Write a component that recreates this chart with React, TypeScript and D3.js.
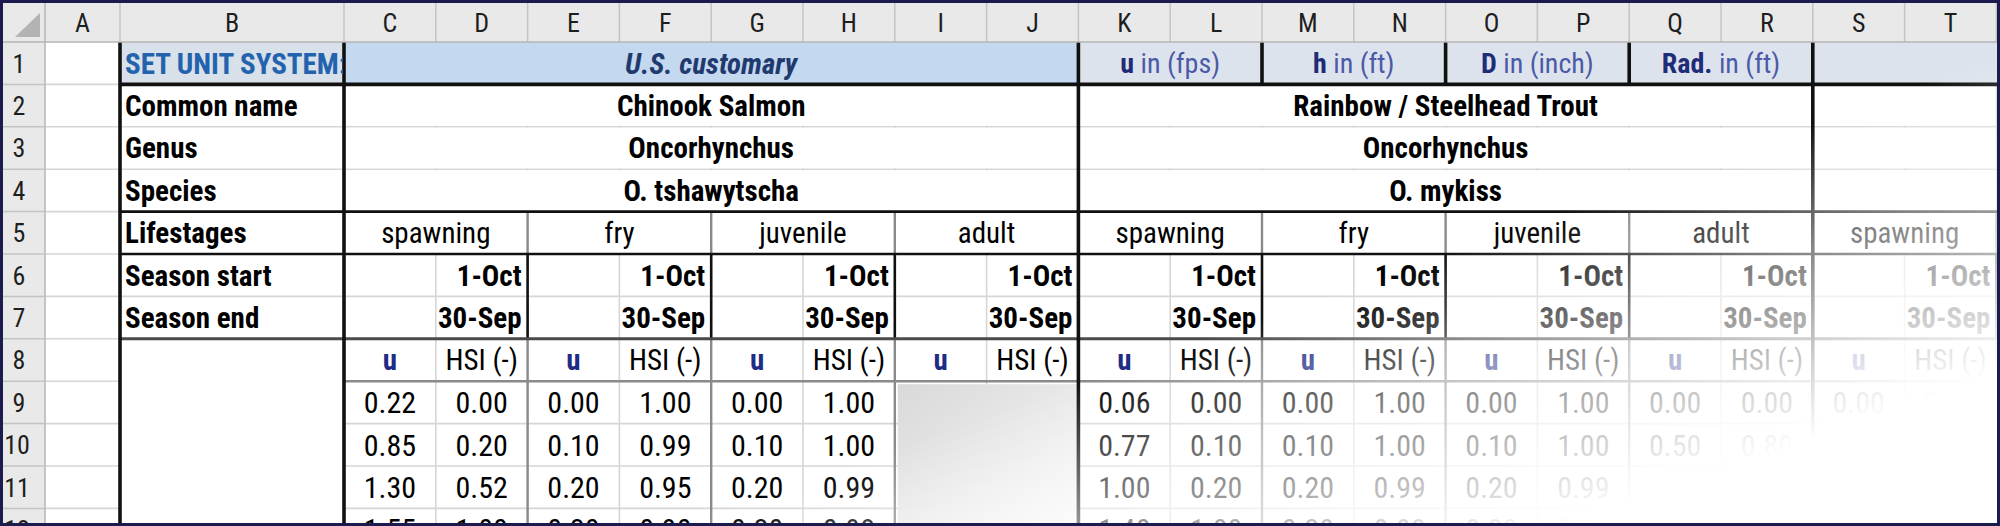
import React from 'react';
import * as d3 from 'd3';

// ---------- data ----------
const columnLetters = ['A','B','C','D','E','F','G','H','I','J','K','L','M','N','O','P','Q','R','S','T'];
const rowNumbers = [1,2,3,4,5,6,7,8,9,10,11,12];
const unitSystemLabel = 'SET UNIT SYSTEM:';
const unitSystem = 'U.S. customary';
const unitVars = ['u','h','D','Rad.'];
const unitNames = [' in (fps)',' in (ft)',' in (inch)',' in (ft)'];
const rowLabels = ['Common name','Genus','Species','Lifestages','Season start','Season end'];
const commonNames = ['Chinook Salmon','Rainbow / Steelhead Trout'];
const genera = ['Oncorhynchus','Oncorhynchus'];
const speciesNames = ['O. tshawytscha','O. mykiss'];
const lifestages = ['spawning','fry','juvenile','adult','spawning','fry','juvenile','adult','spawning'];
const seasonStart = ['1-Oct','1-Oct','1-Oct','1-Oct','1-Oct','1-Oct','1-Oct','1-Oct','1-Oct'];
const seasonEnd = ['30-Sep','30-Sep','30-Sep','30-Sep','30-Sep','30-Sep','30-Sep','30-Sep','30-Sep'];
const velocityHeader = 'u';
const hsiHeader = 'HSI (-)';
const uValues = [
  [0.22, 0.85, 1.30, 1.55],
  [0.00, 0.10, 0.20, 0.30],
  [0.00, 0.10, 0.20, 0.30],
  [],
  [0.06, 0.77, 1.00, 1.40],
  [0.00, 0.10, 0.20, 0.30],
  [0.00, 0.10, 0.20, 0.30],
  [0.00, 0.50],
  [0.00],
];
const hsiValues = [
  [0.00, 0.20, 0.52, 1.00],
  [1.00, 0.99, 0.95, 0.90],
  [1.00, 1.00, 0.99, 0.98],
  [],
  [0.00, 0.10, 0.20, 1.00],
  [1.00, 1.00, 0.99, 0.98],
  [1.00, 1.00, 0.99, 0.98],
  [0.00, 0.80],
  [0.00],
];
const shadedStages = [3];

// ---------- layout ----------
const W = 2000;
const H = 526;
const FONT = "'Liberation Sans Narrow','Arial Narrow','Roboto Condensed','DejaVu Sans Condensed',sans-serif";
const colScale = d3.scaleLinear().domain([2, 20]).range([344, 344 + 18 * 91.8]);
const edge = (i: number) => (i === 0 ? 45 : i === 1 ? 120 : colScale(i));
const rowScale = d3.scaleLinear().domain([1, 13]).range([42, 42 + 12 * 42.4]);
const rTop = (r: number) => rowScale(r);
const rMid = (r: number) => rowScale(r + 0.5);
const cMid = (i: number) => (edge(i) + edge(i + 1)) / 2;
const groupL = (g: number) => edge(2 + 2 * g);
const groupR = (g: number) => edge(4 + 2 * g);

const GRID = '#d6d6d6';
const BLACK = '#111';
const MIDGRAY = '#8a8a8a';

export default function App() {
  const grid: React.ReactNode[] = [];
  for (let i = 1; i <= 20; i++) {
    grid.push(<line key={'gv' + i} x1={edge(i)} x2={edge(i)} y1={42} y2={H} stroke={GRID} strokeWidth={1.6} />);
  }
  for (let r = 2; r <= 13; r++) {
    grid.push(<line key={'gh' + r} x1={45} x2={W} y1={rTop(r)} y2={rTop(r)} stroke={GRID} strokeWidth={1.6} />);
  }

  const fills: React.ReactNode[] = [];
  fills.push(<rect key="b1" x={edge(1)} y={rTop(1)} width={edge(2) - edge(1)} height={rTop(2) - rTop(1)} fill="#d8e0ea" />);
  fills.push(<rect key="c1" x={edge(2)} y={rTop(1)} width={edge(10) - edge(2)} height={rTop(2) - rTop(1)} fill="#c4d8ef" />);
  fills.push(<rect key="k1" x={edge(10)} y={rTop(1)} width={W - edge(10)} height={rTop(2) - rTop(1)} fill="#dde3ec" />);
  [2, 3, 4].forEach((r) => {
    [[2, 10], [10, 18], [18, 20]].forEach(([a, b]) => {
      fills.push(<rect key={`m${r}-${a}`} x={edge(a) + 1} y={rTop(r) + 1} width={edge(b) - edge(a) - 2} height={rTop(r + 1) - rTop(r) - 2} fill="#fff" />);
    });
  });
  lifestages.forEach((_, g) => {
    fills.push(<rect key={'ls' + g} x={groupL(g) + 1} y={rTop(5) + 1} width={groupR(g) - groupL(g) - 2} height={rTop(6) - rTop(5) - 2} fill="#fff" />);
  });
  fills.push(<rect key="b8" x={edge(1) + 1} y={rTop(8) + 1} width={edge(2) - edge(1) - 2} height={H - rTop(8)} fill="#fff" />);

  const defs = (
    <defs>
      <linearGradient id="shade" x1="0" y1="0" x2="1" y2="1">
        <stop offset="0" stopColor="#d9d9d9" />
        <stop offset="1" stopColor="#f7f7f7" />
      </linearGradient>
      <linearGradient id="fade" gradientUnits="userSpaceOnUse" x1={238} y1={679} x2={338} y2={962}>
        <stop offset="0" stopColor="#fff" stopOpacity={0} />
        <stop offset="0.233" stopColor="#fff" stopOpacity={0.3} />
        <stop offset="0.4" stopColor="#fff" stopOpacity={0.5} />
        <stop offset="0.767" stopColor="#fff" stopOpacity={0.82} />
        <stop offset="1" stopColor="#fff" stopOpacity={1} />
      </linearGradient>
      <clipPath id="clipB1">
        <rect x={edge(1)} y={rTop(1)} width={edge(2) - edge(1) - 1} height={rTop(2) - rTop(1)} />
      </clipPath>
    </defs>
  );

  shadedStages.forEach((g) => {
    fills.push(<rect key={'sh' + g} x={groupL(g) + 3} y={rTop(9) + 3} width={groupR(g) - groupL(g) - 5} height={H - rTop(9)} fill="url(#shade)" />);
  });

  const borders: React.ReactNode[] = [];
  const ln = (k: string, x1: number, y1: number, x2: number, y2: number, c: string, w: number) =>
    borders.push(<line key={k} x1={x1} y1={y1} x2={x2} y2={y2} stroke={c} strokeWidth={w} />);
  for (let g = 0; g < 9; g++) {
    const x = groupR(g);
    if (x >= W) continue;
    ln('g5' + g, x, rTop(5), x, rTop(6), MIDGRAY, 2.4);
    ln('g67' + g, x, rTop(6), x, rTop(8), BLACK, 2.6);
    ln('g8' + g, x, rTop(8), x, H, MIDGRAY, 2.4);
  }
  ln('h89', edge(2), rTop(9), W, rTop(9), MIDGRAY, 2.4);
  ln('h78', edge(1), rTop(8), W, rTop(8), '#4a4a4a', 3);
  ln('h45', edge(1), rTop(5), W, rTop(5), BLACK, 2.6);
  ln('h56', edge(1), rTop(6), W, rTop(6), BLACK, 2.6);
  ln('h12', edge(1), rTop(2), W, rTop(2), BLACK, 3.6);
  [1, 2, 10, 18].forEach((i) => ln('tv' + i, edge(i), rTop(1), edge(i), H, BLACK, 3.6));
  [12, 14, 16].forEach((i) => ln('r1v' + i, edge(i), rTop(1), edge(i), rTop(2), BLACK, 3.6));

  const texts: React.ReactNode[] = [];
  const T = (k: string, x: number, y: number, s: string, opts: any = {}) =>
    texts.push(
      <text key={k} x={x} y={y} dy="0.36em" fontFamily={FONT} fontSize={opts.size || 29}
        fontWeight={opts.bold ? 'bold' : 'normal'} fontStyle={opts.italic ? 'italic' : 'normal'}
        fill={opts.fill || '#000'} textAnchor={opts.anchor || 'middle'} clipPath={opts.clip}>{s}</text>
    );
  T('b1', 125, rMid(1), unitSystemLabel, { bold: true, fill: '#2363ae', anchor: 'start', size: 29, clip: 'url(#clipB1)' });
  T('c1', (edge(2) + edge(10)) / 2, rMid(1), unitSystem, { bold: true, italic: true, fill: '#1f3a6e' });
  unitVars.forEach((v, k) => {
    texts.push(
      <text key={'uv' + k} x={(edge(10 + 2 * k) + edge(12 + 2 * k)) / 2} y={rMid(1)} dy="0.36em" fontFamily={FONT} fontSize={28} textAnchor="middle">
        <tspan fontWeight="bold" fill="#1f2c78">{v}</tspan>
        <tspan fill="#4a5aa8">{unitNames[k]}</tspan>
      </text>
    );
  });
  rowLabels.forEach((s, i) => T('rl' + i, 125, rMid(i + 2), s, { bold: true, anchor: 'start' }));
  [commonNames, genera, speciesNames].forEach((arr, r) => {
    arr.forEach((s, k) => T(`sp${r}-${k}`, (edge(2 + 8 * k) + edge(10 + 8 * k)) / 2, rMid(r + 2), s, { bold: true }));
  });
  lifestages.forEach((s, g) => {
    T('ls' + g, (groupL(g) + groupR(g)) / 2, rMid(5), s);
    T('ss' + g, Math.min(groupR(g), W) - 6, rMid(6), seasonStart[g], { bold: true, anchor: 'end' });
    T('se' + g, Math.min(groupR(g), W) - 6, rMid(7), seasonEnd[g], { bold: true, anchor: 'end' });
    T('vh' + g, cMid(2 + 2 * g), rMid(8), velocityHeader, { bold: true, fill: '#1f2c86' });
    T('hh' + g, cMid(3 + 2 * g), rMid(8), hsiHeader);
    uValues[g].forEach((v, j) => T(`u${g}-${j}`, cMid(2 + 2 * g), rMid(9 + j), d3.format('.2f')(v), { size: 30 }));
    hsiValues[g].forEach((v, j) => T(`h${g}-${j}`, cMid(3 + 2 * g), rMid(9 + j), d3.format('.2f')(v), { size: 30 }));
  });

  const headers: React.ReactNode[] = [];
  headers.push(<rect key="hbg" x={0} y={0} width={W} height={42} fill="#e9e9e9" />);
  headers.push(<rect key="rbg" x={0} y={0} width={45} height={H} fill="#e9e9e9" />);
  columnLetters.forEach((c, i) => {
    headers.push(<line key={'hs' + i} x1={edge(i + 1)} x2={edge(i + 1)} y1={3} y2={42} stroke="#c4c4c4" strokeWidth={1.5} />);
    headers.push(
      <text key={'hl' + i} x={cMid(i)} y={23} dy="0.36em" fontFamily={FONT} fontSize={26} fill="#1e1e1e" textAnchor="middle">{c}</text>
    );
  });
  headers.push(<line key="hs0" x1={45} x2={45} y1={3} y2={H} stroke="#b4b4b4" strokeWidth={1.5} />);
  headers.push(<line key="hb" x1={0} x2={W} y1={42} y2={42} stroke="#b4b4b4" strokeWidth={1.5} />);
  rowNumbers.forEach((r) => {
    headers.push(<line key={'rs' + r} x1={0} x2={45} y1={rTop(r + 1)} y2={rTop(r + 1)} stroke="#c4c4c4" strokeWidth={1.5} />);
    headers.push(
      <text key={'rn' + r} x={r >= 10 ? 17 : 19} y={rMid(r)} dy="0.36em" fontFamily={FONT} fontSize={26} fill="#1e1e1e" textAnchor="middle">{r}</text>
    );
  });
  headers.push(<polygon key="tri" points="40,13 40,37 15,37" fill="#b3b3b3" />);

  return (
    <div style={{ position: 'fixed', left: 0, top: 0, width: W, height: H }}>
      <svg width={W} height={H} viewBox={`0 0 ${W} ${H}`} style={{ display: 'block' }}>
        {defs}
        <rect x={0} y={0} width={W} height={H} fill="#fff" />
        {grid}
        {fills}
        {borders}
        {texts}
        <rect x={0} y={0} width={W} height={H} fill="url(#fade)" />
        {headers}
        <rect x={1.5} y={1.5} width={W - 3} height={H - 3} fill="none" stroke="#1b1b4e" strokeWidth={3} />
      </svg>
    </div>
  );
}
